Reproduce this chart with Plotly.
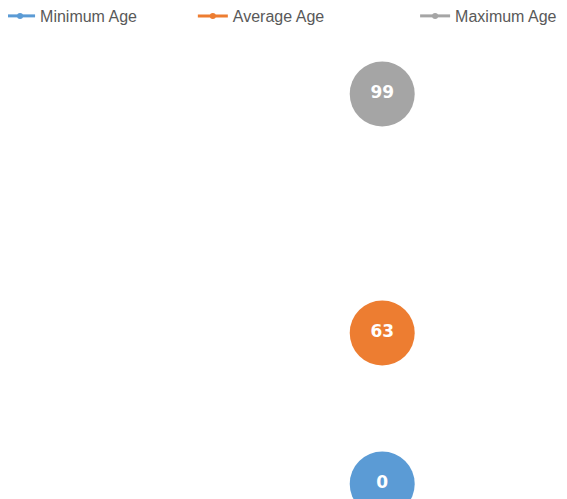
import plotly.graph_objects as go

series_names = ["Minimum Age", "Average Age", "Maximum Age"]
series_values = [0, 63, 99]
series_colors = ["#5B9BD5", "#ED7D31", "#A5A5A5"]
category = [""]

fig = go.Figure()

axes = ["y2", "y", "y"]
legends = ["legend", "legend2", "legend3"]
for name, val, col, ax, lg in zip(series_names, series_values, series_colors, axes, legends):
    fig.add_trace(go.Scatter(
        x=category, y=[val], mode="markers+text", yaxis=ax,
        marker=dict(size=65, color=col),
        text=["<b>%d</b>" % val], textposition="middle center",
        textfont=dict(color="white", size=17, family="DejaVu Sans"),
        showlegend=False, hoverinfo="skip", cliponaxis=False,
    ))
    fig.add_trace(go.Scatter(
        x=[None], y=[None], mode="lines+markers", name=name, legend=lg,
        line=dict(color=col, width=3), marker=dict(size=6, color=col),
    ))

leg_common = dict(orientation="h", yanchor="middle", xanchor="left", y=0.984,
                  font=dict(family="Liberation Sans", size=16, color="#595959"),
                  bgcolor="rgba(0,0,0,0)", itemwidth=30)
fig.update_layout(
    width=567, height=499,
    margin=dict(l=0, r=0, t=0, b=0, autoexpand=False),
    paper_bgcolor="white", plot_bgcolor="white",
    xaxis=dict(type="category", range=[-0.66, 0.34], visible=False),
    yaxis=dict(range=[36.8, 111.96], visible=False),
    yaxis2=dict(range=[-1.353, 27.997], overlaying="y", visible=False),
    legend=dict(x=-0.014, **leg_common),
    legend2=dict(x=0.326, **leg_common),
    legend3=dict(x=0.718, **leg_common),
)

fig.write_html("out.html")
